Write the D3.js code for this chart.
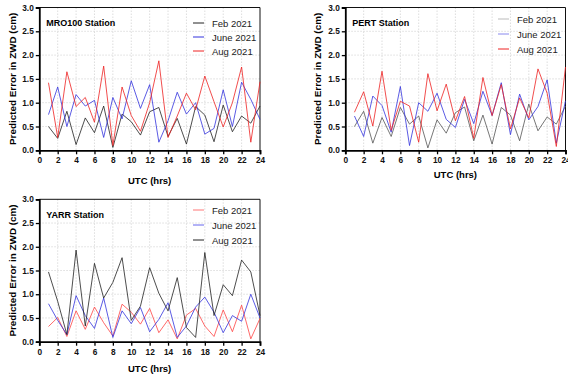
<!DOCTYPE html>
<html><head><meta charset="utf-8">
<script src="https://cdn.jsdelivr.net/npm/d3@7"></script>
<style>body{margin:0;background:#fff}svg{display:block}</style>
</head><body>
<svg id="c" width="568" height="375"></svg>
<script>
const hours = d3.range(1, 25);
const xTicks = [0,2,4,6,8,10,12,14,16,18,20,22,24];
const yTicks = [0,0.5,1,1.5,2,2.5,3];
const seriesNames = ["Feb 2021","June 2021","Aug 2021"];
const stations = ["MRO100 Station","PERT Station","YARR Station"];

const mroFeb  = [0.5,0.25,0.82,0.12,0.68,0.37,0.93,0.06,0.76,0.6,0.32,0.81,0.9,0.29,0.67,0.13,0.92,0.74,0.18,0.95,0.39,0.72,0.57,0.93];
const mroJune = [0.75,1.33,0.5,1.17,0.93,1.05,0.27,1.11,0.66,1.46,0.88,1.38,0.17,0.62,1.22,0.76,1.0,0.34,0.46,1.27,0.5,1.43,1.07,0.65];
const mroAug  = [1.42,0.27,1.65,0.92,1.11,0.59,1.77,0.1,1.33,0.73,0.4,1.0,1.88,0.27,0.72,1.2,0.85,1.56,1.02,0.49,1.0,1.75,0.17,1.44];

const pertFeb  = [0.5,0.82,0.15,0.69,0.29,0.9,0.55,0.72,0.05,0.64,0.36,0.79,0.91,0.2,0.74,0.13,0.9,0.74,0.2,0.97,0.41,0.7,0.55,0.93];
const pertJune = [0.72,0.29,1.14,0.94,0.38,1.34,0.1,1.0,0.82,1.2,0.65,0.48,1.07,0.56,1.24,0.73,1.42,0.33,1.18,0.64,0.92,1.48,0.15,1.04];
const pertAug  = [0.8,1.23,0.51,1.66,0.42,1.03,0.93,0.17,1.61,0.83,1.39,0.62,1.13,0.25,1.53,0.73,1.38,0.45,1.1,0.68,1.71,1.2,0.08,1.75];

const yarrFeb  = [0.32,0.51,0.11,0.65,0.26,0.73,0.4,0.12,0.79,0.62,0.37,0.7,0.19,0.46,0.06,0.56,0.7,0.33,0.11,0.67,0.21,0.77,0.06,0.49];
const yarrJune = [0.8,0.45,0.15,0.97,0.55,0.28,0.92,0.09,0.65,0.38,0.72,0.21,0.47,0.82,0.09,0.33,0.73,0.94,0.62,0.19,0.55,0.43,1.0,0.5];
const yarrAug  = [1.47,0.85,0.15,1.93,0.33,1.65,0.92,1.25,1.77,0.45,0.75,1.56,1.02,0.65,1.35,0.3,0.09,1.88,0.55,1.2,0.97,1.72,1.47,0.55];

const panels = [
  {title: stations[0], data:[mroFeb,mroJune,mroAug], colors:["#222","#3333dd","#ee2222"], legColors:["#222","#3333dd","#ee2222"],
   x0:39.3,x1:260,yT:7.5,yB:150.3, ylabX:12, xlabY:180, legX:193, legTx:212, legY:[23,37,51]},
  {title: stations[1], data:[pertFeb,pertJune,pertAug], colors:["#555","#3333dd","#ee2222"], legColors:["#bbb","#8888ee","#ee2222"],
   x0:345.3,x1:565.5,yT:7.5,yB:150.3, ylabX:317.5, xlabY:174, legX:498, legTx:517, legY:[19,34,49]},
  {title: stations[2], data:[yarrFeb,yarrJune,yarrAug], colors:["#ff4444","#3333dd","#222"], legColors:["#ff7777","#6666ee","#222"],
   x0:39.3,x1:260,yT:199.3,yB:341.7, ylabX:12.5, xlabY:368, legX:193, legTx:212, legY:[210,225,240]}
];

const svg = d3.select("#c");
const F = "'Liberation Sans', Arial, sans-serif";

panels.forEach(p => {
  const g = svg.append("g");
  const x = d3.scaleLinear().domain([0,24]).range([p.x0,p.x1]);
  const y = d3.scaleLinear().domain([0,3]).range([p.yB,p.yT]);
  // grid
  g.append("g").selectAll("line").data(xTicks.slice(1,-1)).join("line")
    .attr("x1",d=>x(d)).attr("x2",d=>x(d)).attr("y1",p.yT).attr("y2",p.yB)
    .attr("stroke","#d4d4d4").attr("stroke-width",0.8).attr("stroke-dasharray","1.5,1.5");
  g.append("g").selectAll("line").data(yTicks.slice(1,-1)).join("line")
    .attr("x1",p.x0).attr("x2",p.x1).attr("y1",d=>y(d)).attr("y2",d=>y(d))
    .attr("stroke","#d4d4d4").attr("stroke-width",0.8).attr("stroke-dasharray","1.5,1.5");
  // frame top/right
  g.append("line").attr("x1",p.x0).attr("x2",p.x1).attr("y1",p.yT).attr("y2",p.yT).attr("stroke","#111").attr("stroke-width",1);
  g.append("line").attr("x1",p.x1).attr("x2",p.x1).attr("y1",p.yT).attr("y2",p.yB).attr("stroke","#111").attr("stroke-width",1);
  // series
  const line = d3.line().x((d,i)=>x(hours[i])).y(d=>y(d));
  p.data.forEach((s,k)=>{
    g.append("path").attr("d",line(s)).attr("fill","none").attr("stroke",p.colors[k])
      .attr("stroke-width",1).attr("stroke-opacity",0.8);
  });
  // axes
  const xa = g.append("g").attr("transform",`translate(0,${p.yB})`)
    .call(d3.axisBottom(x).tickValues(xTicks).tickFormat(d3.format("d")).tickSize(4).tickPadding(3));
  const ya = g.append("g").attr("transform",`translate(${p.x0},0)`)
    .call(d3.axisLeft(y).tickValues(yTicks).tickFormat(d3.format(".1f")).tickSize(3.5).tickPadding(2));
  [xa,ya].forEach(a=>{
    a.select(".domain").attr("stroke","#000").attr("stroke-width",1.8);
    a.selectAll(".tick line").attr("stroke","#000").attr("stroke-width",1.3);
    a.selectAll("text").attr("font-family",F).attr("font-weight","bold").attr("font-size",8.3).attr("fill","#111");
  });
  // labels
  g.append("text").attr("x",(p.x0+p.x1)/2).attr("y",p.xlabY).attr("text-anchor","middle")
    .attr("dominant-baseline","central")
    .attr("font-family",F).attr("font-weight","bold").attr("font-size",9.5).text("UTC (hrs)");
  g.append("text").attr("transform",`translate(${p.ylabX},${(p.yT+p.yB)/2}) rotate(-90)`)
    .attr("text-anchor","middle").attr("dominant-baseline","central")
    .attr("font-family",F).attr("font-weight","bold").attr("font-size",9.9).text("Predicted Error in ZWD (cm)");
  g.append("text").attr("x",p.x0+7).attr("y",p.yT+15.5)
    .attr("dominant-baseline","central")
    .attr("font-family",F).attr("font-weight","bold").attr("font-size",9).text(p.title);
  // legend
  seriesNames.forEach((n,k)=>{
    g.append("line").attr("x1",p.legX).attr("x2",p.legX+11).attr("y1",p.legY[k]).attr("y2",p.legY[k])
      .attr("stroke",p.legColors[k]).attr("stroke-width",1);
    g.append("text").attr("x",p.legTx).attr("y",p.legY[k]).attr("dominant-baseline","central")
      .attr("font-family",F).attr("font-size",9.5).attr("fill","#222").text(n);
  });
});
</script>
</body></html>
